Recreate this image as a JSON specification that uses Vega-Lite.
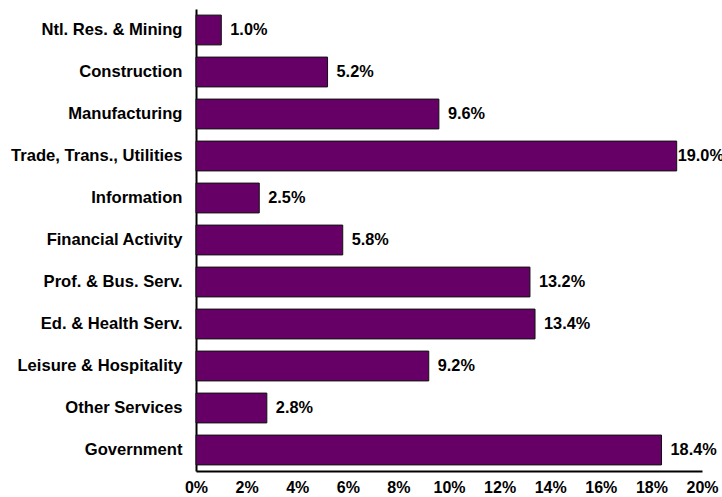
{
  "$schema": "https://vega.github.io/schema/vega-lite/v6.json",
  "width": 506,
  "height": 462,
  "autosize": {"type": "none"},
  "padding": {"left": 196, "top": 9, "right": 20, "bottom": 26},
  "background": "white",
  "config": {
    "view": {"stroke": null},
    "font": "Liberation Sans"
  },
  "data": {
    "values": [
      {"industry": "Ntl. Res. & Mining", "share": 0.010},
      {"industry": "Construction", "share": 0.052},
      {"industry": "Manufacturing", "share": 0.096},
      {"industry": "Trade, Trans., Utilities", "share": 0.190},
      {"industry": "Information", "share": 0.025},
      {"industry": "Financial Activity", "share": 0.058},
      {"industry": "Prof. & Bus. Serv.", "share": 0.132},
      {"industry": "Ed. & Health Serv.", "share": 0.134},
      {"industry": "Leisure & Hospitality", "share": 0.092},
      {"industry": "Other Services", "share": 0.028},
      {"industry": "Government", "share": 0.184}
    ]
  },
  "encoding": {
    "y": {
      "field": "industry",
      "type": "nominal",
      "sort": null,
      "scale": {"paddingInner": 0.29, "paddingOuter": 0.145},
      "axis": {
        "title": null,
        "ticks": false,
        "domainColor": "black",
        "domainWidth": 2,
        "labelFont": "Liberation Sans",
        "labelFontWeight": "bold",
        "labelFontSize": 16.6,
        "labelColor": "black",
        "labelPadding": 14,
        "labelLimit": 300
      }
    },
    "x": {
      "field": "share",
      "type": "quantitative",
      "scale": {"domain": [0, 0.2], "nice": false},
      "axis": {
        "title": null,
        "values": [0, 0.02, 0.04, 0.06, 0.08, 0.1, 0.12, 0.14, 0.16, 0.18, 0.2],
        "format": ".0%",
        "grid": false,
        "ticks": false,
        "domainColor": "black",
        "domainWidth": 2,
        "labelFont": "Liberation Sans",
        "labelFontWeight": "bold",
        "labelFontSize": 16,
        "labelColor": "black",
        "labelPadding": 8,
        "labelFlush": false,
        "labelOverlap": false
      }
    }
  },
  "layer": [
    {
      "mark": {"type": "bar", "color": "#660066", "stroke": "#111111", "strokeWidth": 1}
    },
    {
      "transform": [{"filter": "datum.share < 0.19"}],
      "mark": {"type": "text", "align": "left", "baseline": "middle", "dx": 9, "font": "Liberation Sans", "fontWeight": "bold", "fontSize": 16.3, "color": "black"},
      "encoding": {"text": {"field": "share", "type": "quantitative", "format": ".1%"}}
    },
    {
      "transform": [{"filter": "datum.share >= 0.19"}],
      "mark": {"type": "text", "align": "left", "baseline": "middle", "dx": 1, "font": "Liberation Sans", "fontWeight": "bold", "fontSize": 16.3, "color": "black"},
      "encoding": {"text": {"field": "share", "type": "quantitative", "format": ".1%"}}
    }
  ]
}
